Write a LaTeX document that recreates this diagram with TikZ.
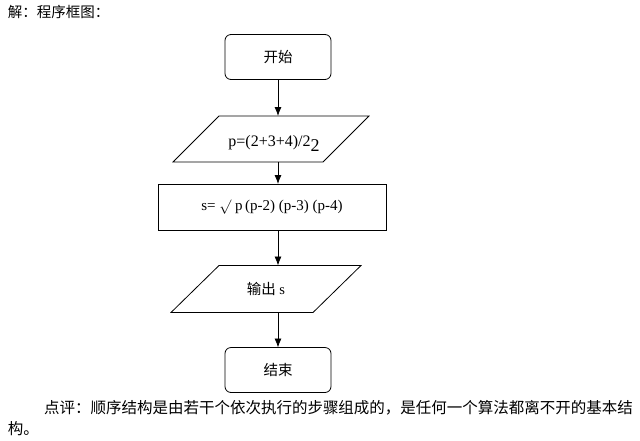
\documentclass[tikz,border=0pt]{standalone}
\usepackage{fontspec}
\setmainfont{Liberation Serif}
\newfontfamily\cjk{Noto Sans CJK SC}
\usetikzlibrary{arrows.meta}

\begin{document}
\begin{tikzpicture}[x=1pt,y=-1pt,inner sep=0pt,outer sep=0pt,
    every node/.style={font=\fontsize{14.5}{17}\selectfont},
    termbox/.style={draw,thick,rounded corners=6pt,minimum width=106pt,minimum height=45pt},
    iobox/.style={minimum width=150pt,minimum height=46pt},
    procbox/.style={draw,thick,minimum width=228pt,minimum height=46pt},
    flow/.style={thick,-{Latex[length=9pt,width=7pt]}}]
    \useasboundingbox (0,0) rectangle (640,440);
    % header
    \node[anchor=west] (head) at (8,12) {\cjk 解：程序框图：};
    % flow chart
    \node[termbox] (start) at (278,57) {\cjk 开始};
    \node[iobox] (p_in) at (271,139) {};
    \draw[thick] ([xshift=23pt]p_in.north west) -- ([xshift=23pt]p_in.north east)
        -- ([xshift=-23pt]p_in.south east) -- ([xshift=-23pt]p_in.south west) -- cycle;
    \node (p_txt) at (274,143) {\fontsize{16}{18}\selectfont p=(2+3+4)/2\raisebox{-5pt}{\fontsize{18}{18}\selectfont 2}};
    \node[procbox] (s_calc) at (272,207) {\fontsize{15}{18}\selectfont s=~$\surd$~p\,(p-2)~(p-3)~(p-4)};
    \node[iobox,minimum width=142pt,minimum height=47pt] (s_out) at (266,289) {{\cjk 输出}\ s};
    \draw[thick] ([xshift=24pt]s_out.north west) -- ([xshift=24pt]s_out.north east)
        -- ([xshift=-24pt]s_out.south east) -- ([xshift=-24pt]s_out.south west) -- cycle;
    \node[termbox] (stop) at (278,370) {\cjk 结束};
    % connectors
    \draw[flow] (start.south) -- (start.south |- p_in.north);
    \draw[flow] (start.south |- p_in.south) -- (start.south |- s_calc.north);
    \draw[flow] (start.south |- s_calc.south) -- (start.south |- s_out.north);
    \draw[flow] (start.south |- s_out.south) -- (stop.north);
    % footer
    \node[anchor=west,font=\fontsize{15.5}{18}\selectfont] (note) at (44,408) {\cjk 点评：顺序结构是由若干个依次执行的步骤组成的，是任何一个算法都离不开的基本结};
    \node[anchor=west,font=\fontsize{15.5}{18}\selectfont] (note2) at (8,429) {\cjk 构。};
\end{tikzpicture}
\end{document}
